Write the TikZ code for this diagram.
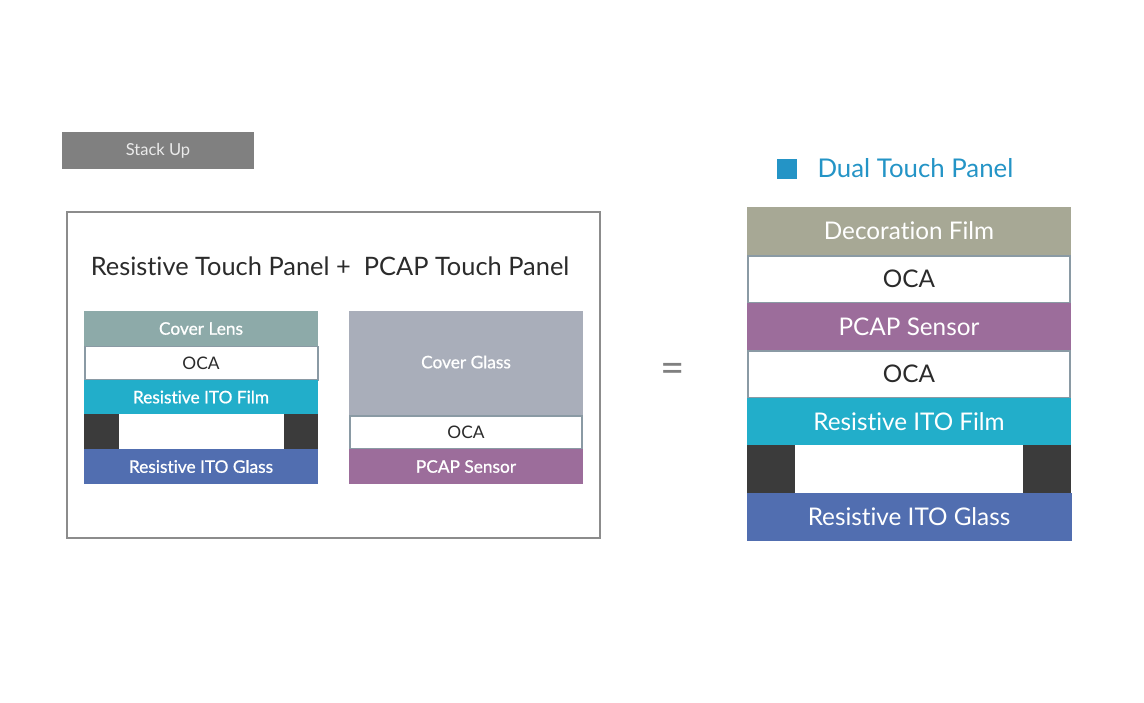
\documentclass[tikz,border=0pt]{standalone}
\usepackage{fontspec}
\setmainfont{Lato}[Ligatures=NoCommon]
\newfontfamily\semilato{Lato}[Ligatures=NoCommon,FakeBold=0.8]
\definecolor{stackgray}{HTML}{808080}
\definecolor{framegray}{HTML}{8C8C8C}
\definecolor{coverlens}{HTML}{8DAAA9}
\definecolor{coverglass}{HTML}{A9AEBA}
\definecolor{itofilm}{HTML}{22AECA}
\definecolor{itoglass}{HTML}{516EB0}
\definecolor{pcap}{HTML}{9C6D9B}
\definecolor{spacer}{HTML}{3B3B3B}
\definecolor{deco}{HTML}{A7A895}
\definecolor{dualblue}{HTML}{2494C6}
\definecolor{txtdark}{HTML}{2B2B2B}
\definecolor{ocaline}{HTML}{8A9AA4}
\tikzset{
  smallwhite/.style={text=white, font=\semilato\fontsize{17.3}{19}\selectfont},
  smalldark/.style={text=txtdark, font=\fontsize{17.3}{19}\selectfont},
  bigwhite/.style={text=white, font=\fontsize{24.3}{27}\selectfont},
  bigdark/.style={text=txtdark, font=\fontsize{24.3}{27}\selectfont},
  ocabox/.style={draw=ocaline, fill=white, line width=1.2pt},
}
\begin{document}
\begin{tikzpicture}[x=1pt,y=-1pt]
\useasboundingbox (0,0) rectangle (1144,702);
% Stack Up label
\fill[stackgray] (62,132) rectangle (254,169);
\node[text=white!92!black, font=\fontsize{16.5}{18}\selectfont] (stackup) at (158,150.5) {Stack Up};
% frame
\draw[framegray, line width=1.5pt] (67,212) rectangle (600,538);
\node[text=txtdark, font=\fontsize{25.4}{28}\selectfont] (title) at (330,266) {Resistive Touch Panel +\ \ PCAP Touch Panel};
% left stack
\fill[coverlens] (84,311) rectangle (318,346);
\node[smallwhite] (cl) at (201,328.5) {Cover Lens};
\draw[ocabox] (85,346.5) rectangle (318,380);
\node[smalldark] (oca1) at (201,363) {OCA};
\fill[itofilm] (84,380) rectangle (318,414);
\node[smallwhite] (rf1) at (201,397) {Resistive ITO Film};
\fill[spacer] (84,414) rectangle (119,449);
\fill[spacer] (284,414) rectangle (318,449);
\fill[itoglass] (84,449) rectangle (318,484);
\node[smallwhite] (rg1) at (201,466.5) {Resistive ITO Glass};
% right small stack
\fill[coverglass] (349,311) rectangle (583,415);
\node[smallwhite] (cg) at (466,362) {Cover Glass};
\draw[ocabox] (350,416) rectangle (582,449);
\node[smalldark] (oca2) at (466,432.5) {OCA};
\fill[pcap] (349,449) rectangle (583,484);
\node[smallwhite] (ps1) at (466,466.5) {PCAP Sensor};
% equals
\node[text=stackgray, font=\fontsize{42}{44}\selectfont] (eq) at (673,373) {=};
% legend
\fill[dualblue] (777,159) rectangle (797,179);
\node[anchor=west, text=dualblue, font=\fontsize{25.8}{28}\selectfont] (dual) at (814,168) {Dual Touch Panel};
% big stack
\fill[deco] (747,207) rectangle (1071,255);
\node[bigwhite] (df) at (909,231) {Decoration Film};
\draw[ocabox] (748,256) rectangle (1070,303);
\node[bigdark] (oca3) at (909,279) {OCA};
\fill[pcap] (747,303) rectangle (1071,351);
\node[bigwhite] (ps2) at (909,327) {PCAP Sensor};
\draw[ocabox] (748,351) rectangle (1070,398);
\node[bigdark] (oca4) at (909,374) {OCA};
\fill[itofilm] (747,398) rectangle (1071,445);
\node[bigwhite] (rf2) at (909,421.5) {Resistive ITO Film};
\fill[spacer] (747,445) rectangle (795,493);
\fill[spacer] (1023,445) rectangle (1071,493);
\fill[itoglass] (747,493) rectangle (1072,541);
\node[bigwhite] (rg2) at (909,517) {Resistive ITO Glass};
\end{tikzpicture}
\end{document}
